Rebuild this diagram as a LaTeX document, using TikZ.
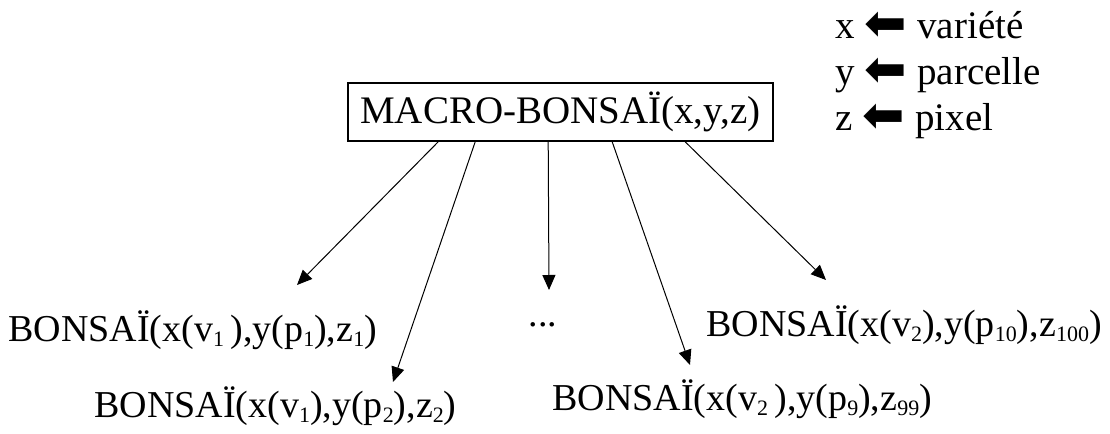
\documentclass[tikz,border=0pt]{standalone}
\usepackage{fontspec}
\setmainfont{Liberation Serif}
\newfontfamily\symbfont{DejaVu Sans}
\usetikzlibrary{arrows.meta, calc, positioning}
\tikzset{
  macro/.style = {draw, line width=0.8pt, minimum width=212.5pt,
                  minimum height=29pt, inner sep=0pt,
                  font=\fontsize{19.5}{22}\selectfont},
  leaf/.style  = {anchor=base west, inner sep=0pt,
                  font=\fontsize{19}{22}\selectfont},
  legend/.style = {anchor=base west, inner sep=0pt,
                   font=\fontsize{19.5}{22}\selectfont},
  arr/.style   = {-{Triangle[length=7.5pt, width=6.5pt]}, line width=0.5pt},
}
\newcommand{\lsub}[1]{\raisebox{-2.5pt}{\fontsize{11}{11}\selectfont #1}}
\newcommand{\larrow}{\hspace{5pt}\raisebox{-1pt}{\scalebox{1.3}{\symbfont ⬅}}\hspace{5pt}}

\begin{document}
\begin{tikzpicture}[x=0.5pt, y=-0.5pt]
  \useasboundingbox (0,0) rectangle (1110,434);

  \node[macro] (mb) at (560.5,112) {MACRO-BONSAÏ(x,y,z)};

  \node[leaf] (b1) at (8,341) {BONSAÏ(x(v\lsub{1}\,),y(p\lsub{1}),z\lsub{1})};
  \node[leaf] (b2) at (94,417) {BONSAÏ(x(v\lsub{1}),y(p\lsub{2}),z\lsub{2})};
  \node[leaf, anchor=base] (dots) at (543,326) {...};
  \node[leaf] (b3) at (552,410) {BONSAÏ(x(v\lsub{2}\,),y(p\lsub{9}),z\lsub{99})};
  \node[leaf] (b4) at (706,336) {BONSAÏ(x(v\lsub{2}),y(p\lsub{10}),z\lsub{100})};

  % legend
  \node[legend] (lx) at (835,38)  {x\larrow variété};
  \node[legend] (ly) at (835,84)  {y\larrow parcelle};
  \node[legend] (lz) at (835,130) {z\larrow pixel};

  \foreach \i/\dx in {1/91, 2/128, 3/201, 4/265, 5/338}
    \coordinate (s\i) at ($(mb.south west)+(\dx,0)$);
  \coordinate (t1) at (297,285);
  \coordinate (t2) at (393,382);
  \coordinate (t3) at (549,290);
  \coordinate (t4) at (690,365);
  \coordinate (t5) at (826,280);

  \foreach \i in {1,...,5}
    \draw[arr] (s\i) -- (t\i);

\end{tikzpicture}
\end{document}
